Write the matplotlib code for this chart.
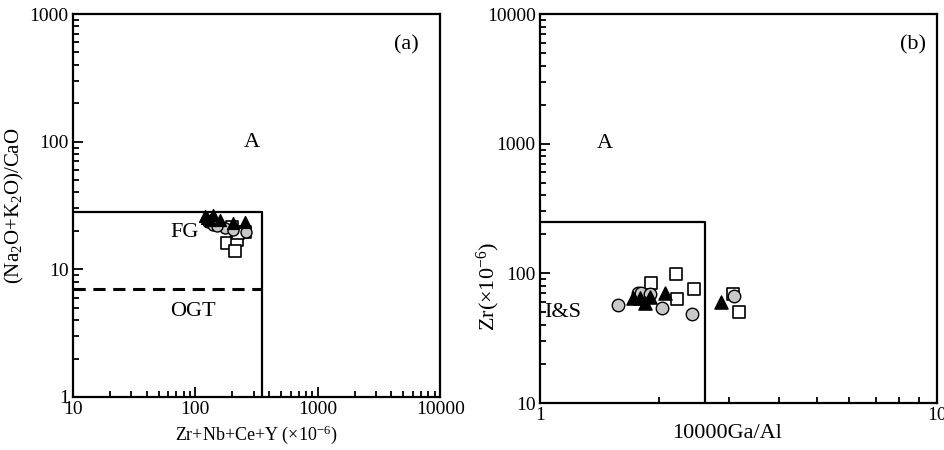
import matplotlib
matplotlib.use('Agg')
import matplotlib.pyplot as plt
from matplotlib.ticker import LogLocator, NullFormatter, FixedLocator, FixedFormatter

plt.rcParams['font.family'] = ['Liberation Serif', 'DejaVu Serif']
plt.rcParams['mathtext.fontset'] = 'custom'
plt.rcParams['mathtext.rm'] = 'Liberation Serif'
plt.rcParams['mathtext.it'] = 'Liberation Serif:italic'

# (a) Zr+Nb+Ce+Y vs (Na2O+K2O)/CaO
a_tri_x = [140, 203, 255, 124, 132, 158, 120]
a_tri_y = [26.7, 23.1, 23.5, 25.3, 24.5, 24.5, 26.0]
a_cir_x = [175, 203, 260, 127, 140, 150]
a_cir_y = [21.1, 20.4, 19.7, 23.5, 22.3, 22.0]
a_sq_x = [181, 218, 211, 255, 224, 200]
a_sq_y = [16.0, 17.0, 13.8, 19.7, 19.3, 21.5]

# (b) 10000Ga/Al vs Zr
b_tri_x = [2.06, 2.86, 1.72, 1.79, 1.84, 1.89]
b_tri_y = [71, 59.8, 64, 64, 59, 66]
b_cir_x = [1.57, 2.03, 2.42, 3.08, 1.77, 1.80, 1.89]
b_cir_y = [57, 54, 48.4, 67.3, 70, 70, 69]
b_sq_x = [1.90, 2.20, 2.21, 2.45, 3.07, 3.17]
b_sq_y = [84, 99, 63.5, 76, 69, 50.7]

grey = '#c8c8c8'
ms = 9

fig = plt.figure(figsize=(9.44, 4.5), dpi=100)
ax1 = fig.add_axes([0.0773, 0.1178, 0.389, 0.851])
ax2 = fig.add_axes([0.572, 0.1044, 0.4206, 0.8644])

for ax in (ax1, ax2):
    ax.set_xscale('log')
    ax.set_yscale('log')
    for s in ax.spines.values():
        s.set_linewidth(1.6)
    ax.tick_params(which='both', direction='in', top=False, right=False,
                   labelsize=14, width=1.3, pad=3)
    ax.tick_params(which='major', length=7)
    ax.tick_params(which='minor', length=4)
    ax.xaxis.set_minor_formatter(NullFormatter())
    ax.yaxis.set_minor_formatter(NullFormatter())

# panel a
ax1.set_xlim(10, 10000)
ax1.set_ylim(1, 1000)
ax1.xaxis.set_major_locator(FixedLocator([10, 100, 1000, 10000]))
ax1.xaxis.set_major_formatter(FixedFormatter(['10', '100', '1000', '10000']))
ax1.yaxis.set_major_locator(FixedLocator([1, 10, 100, 1000]))
ax1.yaxis.set_major_formatter(FixedFormatter(['1', '10', '100', '1000']))
ax1.xaxis.set_minor_locator(LogLocator(base=10, subs=range(2, 10)))
ax1.yaxis.set_minor_locator(LogLocator(base=10, subs=range(2, 10)))
ax1.plot([10, 350, 350], [28, 28, 1], color='black', lw=1.6)
ax1.plot([10, 350], [7, 7], color='black', lw=2.2, ls=(0, (4, 2.5)))
ax1.scatter(a_sq_x, a_sq_y, marker='s', s=ms * 7, facecolor='white', edgecolor='black', lw=1.2, zorder=3)
ax1.scatter(a_cir_x, a_cir_y, marker='o', s=ms * 7, facecolor=grey, edgecolor='black', lw=1.0, zorder=4)
ax1.scatter(a_tri_x, a_tri_y, marker='^', s=ms * 8, facecolor='black', edgecolor='black', zorder=5)
ax1.text(290, 98, 'A', fontsize=16, ha='center', va='center')
ax1.text(81, 19.3, 'FG', fontsize=16, ha='center', va='center')
ax1.text(95, 4.7, 'OGT', fontsize=16, ha='center', va='center')
ax1.text(5300, 570, '(a)', fontsize=16, ha='center', va='center')
ax1.set_xlabel('Zr+Nb+Ce+Y (×10$^{-6}$)', fontsize=13, labelpad=4)
ax1.set_ylabel('(Na$_2$O+K$_2$O)/CaO', fontsize=15)
ax1.yaxis.set_label_coords(-0.128, 0.5)

# panel b
ax2.set_xlim(1, 10)
ax2.set_ylim(10, 10000)
ax2.xaxis.set_major_locator(FixedLocator([1, 10]))
ax2.xaxis.set_major_formatter(FixedFormatter(['1', '10']))
ax2.yaxis.set_major_locator(FixedLocator([10, 100, 1000, 10000]))
ax2.yaxis.set_major_formatter(FixedFormatter(['10', '100', '1000', '10000']))
ax2.xaxis.set_minor_locator(LogLocator(base=10, subs=range(2, 10)))
ax2.yaxis.set_minor_locator(LogLocator(base=10, subs=range(2, 10)))
ax2.plot([1, 2.6, 2.6], [250, 250, 10], color='black', lw=1.6)
ax2.scatter(b_sq_x, b_sq_y, marker='s', s=ms * 9, facecolor='white', edgecolor='black', lw=1.2, zorder=3)
ax2.scatter(b_cir_x, b_cir_y, marker='o', s=ms * 9, facecolor=grey, edgecolor='black', lw=1.0, zorder=4)
ax2.scatter(b_tri_x, b_tri_y, marker='^', s=ms * 10, facecolor='black', edgecolor='black', zorder=5)
ax2.text(1.46, 1000, 'A', fontsize=16, ha='center', va='center')
ax2.text(1.14, 49.6, 'I&S', fontsize=16, ha='center', va='center')
ax2.text(8.7, 5750, '(b)', fontsize=16, ha='center', va='center')
ax2.set_xlabel('10000Ga/Al', fontsize=16)
ax2.xaxis.set_label_coords(0.471, -0.055)
ax2.set_ylabel('Zr(×10$^{-6}$)', fontsize=16)
ax2.yaxis.set_label_coords(-0.096, 0.30)

plt.savefig('out.png', dpi=100)
plt.close()
